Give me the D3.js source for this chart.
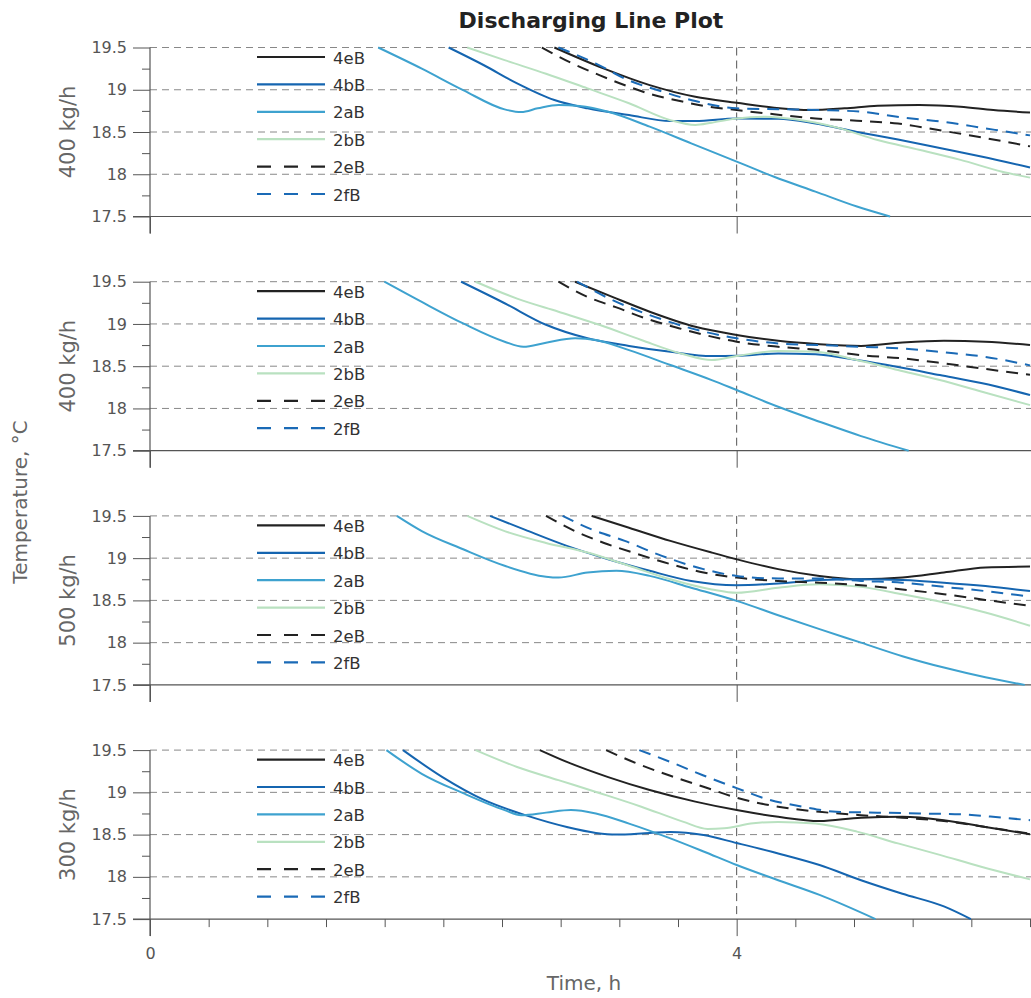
<!DOCTYPE html>
<html><head><meta charset="utf-8">
<script src="https://cdn.jsdelivr.net/npm/d3@7"></script>
<style>body{margin:0;background:#fff}svg{display:block}text{font-family:"DejaVu Sans",sans-serif}</style>
</head><body>
<svg id="chart" width="1031" height="998"></svg>
<script>
// ---- data ----
const seriesNames = ["4eB","4bB","2aB","2bB","2eB","2fB"];
const panelLabels = ["400 kg/h","400 kg/h","500 kg/h","300 kg/h"];
const yTicks = [17.5, 18, 18.5, 19, 19.5];
const xTickLabels = [0, 4];

// Panel 1 (400 kg/h)
const p1_4eB = [[2.757,19.5],[3.096,19.25],[3.407,19.055],[3.718,18.917],[4.0,18.846],[4.255,18.787],[4.509,18.76],[4.735,18.78],[4.961,18.81],[5.244,18.82],[5.526,18.80],[5.75,18.76],[6.0,18.73]];
const p1_4bB = [[2.036,19.5],[2.277,19.29],[2.503,19.075],[2.757,18.878],[2.983,18.78],[3.266,18.70],[3.548,18.63],[3.718,18.63],[4.0,18.66],[4.283,18.657],[4.537,18.60],[4.82,18.50],[5.10,18.41],[5.385,18.31],[5.667,18.21],[6.0,18.08]];
const p1_2aB = [[1.556,19.5],[1.853,19.25],[2.135,18.996],[2.418,18.768],[2.531,18.736],[2.644,18.78],[2.785,18.82],[2.927,18.807],[3.124,18.74],[3.407,18.563],[3.69,18.366],[4.0,18.15],[4.255,17.97],[4.537,17.795],[4.82,17.618],[5.046,17.5]];
const p1_2bB = [[2.163,19.5],[2.418,19.35],[2.70,19.19],[2.983,19.016],[3.266,18.84],[3.548,18.64],[3.718,18.583],[3.83,18.61],[4.0,18.66],[4.198,18.68],[4.396,18.65],[4.679,18.555],[4.961,18.405],[5.244,18.29],[5.526,18.17],[5.81,18.03],[6.0,17.96]];
const p1_2eB = [[2.672,19.5],[2.87,19.32],[3.068,19.17],[3.266,19.035],[3.435,18.937],[3.605,18.87],[3.774,18.81],[4.0,18.76],[4.255,18.71],[4.537,18.66],[4.82,18.634],[5.10,18.60],[5.385,18.52],[5.667,18.437],[6.0,18.33]];
const p1_2fB = [[2.785,19.5],[3.04,19.31],[3.266,19.11],[3.49,18.98],[3.718,18.866],[4.0,18.78],[4.283,18.77],[4.565,18.76],[4.848,18.74],[5.13,18.673],[5.413,18.62],[5.696,18.543],[6.0,18.46]];

// Panel 2 (400 kg/h)
const p2_4eB = [[2.898,19.5],[3.152,19.32],[3.407,19.145],[3.718,18.967],[4.0,18.87],[4.283,18.80],[4.565,18.76],[4.848,18.74],[5.13,18.78],[5.413,18.80],[5.696,18.79],[6.0,18.75]];
const p2_4bB = [[2.121,19.5],[2.418,19.245],[2.70,18.99],[2.983,18.83],[3.266,18.74],[3.548,18.67],[3.83,18.62],[4.0,18.624],[4.283,18.65],[4.537,18.64],[4.82,18.573],[5.10,18.49],[5.385,18.395],[5.667,18.30],[6.0,18.16]];
const p2_2aB = [[1.598,19.5],[1.853,19.26],[2.135,19.006],[2.418,18.79],[2.545,18.73],[2.70,18.778],[2.898,18.83],[3.04,18.81],[3.266,18.69],[3.548,18.514],[3.83,18.336],[4.0,18.218],[4.283,18.02],[4.565,17.843],[4.848,17.673],[5.173,17.5]];
const p2_2bB = [[2.22,19.5],[2.503,19.30],[2.785,19.145],[3.068,18.987],[3.35,18.81],[3.633,18.644],[3.83,18.573],[4.0,18.62],[4.283,18.68],[4.537,18.67],[4.82,18.573],[5.10,18.455],[5.385,18.336],[5.667,18.20],[6.0,18.04]];
const p2_2eB = [[2.785,19.5],[2.983,19.32],[3.18,19.196],[3.379,19.066],[3.605,18.95],[3.83,18.85],[4.0,18.79],[4.283,18.73],[4.565,18.69],[4.848,18.63],[5.13,18.593],[5.413,18.534],[5.696,18.467],[6.0,18.40]];
const p2_2fB = [[2.912,19.5],[3.152,19.283],[3.407,19.105],[3.69,18.948],[4.0,18.83],[4.283,18.77],[4.565,18.75],[4.848,18.73],[5.13,18.71],[5.413,18.664],[5.696,18.61],[6.0,18.51]];

// Panel 3 (500 kg/h)
const p3_4eB = [[3.011,19.5],[3.266,19.36],[3.548,19.204],[3.83,19.066],[4.0,18.987],[4.283,18.87],[4.565,18.79],[4.848,18.75],[5.13,18.77],[5.413,18.83],[5.696,18.89],[6.0,18.90]];
const p3_4bB = [[2.319,19.5],[2.559,19.334],[2.842,19.145],[3.124,18.987],[3.407,18.85],[3.69,18.73],[4.0,18.68],[4.283,18.70],[4.565,18.74],[4.848,18.75],[5.13,18.74],[5.413,18.71],[5.696,18.67],[6.0,18.61]];
const p3_2aB = [[1.683,19.5],[1.853,19.32],[2.135,19.105],[2.418,18.91],[2.70,18.78],[2.785,18.77],[2.983,18.83],[3.18,18.85],[3.407,18.79],[3.69,18.65],[4.0,18.494],[4.283,18.325],[4.565,18.16],[4.848,18.0],[5.13,17.84],[5.413,17.705],[5.696,17.59],[5.964,17.5]];
const p3_2bB = [[2.163,19.5],[2.418,19.32],[2.70,19.18],[2.983,19.066],[3.266,18.91],[3.548,18.75],[3.83,18.63],[4.0,18.59],[4.283,18.65],[4.565,18.69],[4.848,18.66],[5.13,18.573],[5.413,18.475],[5.696,18.356],[6.0,18.20]];
const p3_2eB = [[2.70,19.5],[2.898,19.32],[3.096,19.18],[3.322,19.05],[3.548,18.93],[3.774,18.83],[4.0,18.77],[4.283,18.73],[4.565,18.71],[4.848,18.68],[5.13,18.63],[5.413,18.573],[5.696,18.506],[6.0,18.435]];
const p3_2fB = [[2.813,19.5],[3.011,19.34],[3.237,19.204],[3.49,19.027],[3.774,18.87],[4.0,18.79],[4.283,18.76],[4.565,18.76],[4.848,18.73],[5.13,18.71],[5.413,18.66],[5.696,18.61],[6.0,18.545]];

// Panel 4 (300 kg/h)
const p4_4eB = [[2.658,19.5],[2.842,19.36],[3.124,19.18],[3.407,19.027],[3.718,18.89],[4.0,18.79],[4.283,18.71],[4.565,18.66],[4.848,18.70],[5.13,18.71],[5.413,18.67],[5.696,18.59],[6.0,18.505]];
const p4_4bB = [[1.725,19.5],[1.994,19.18],[2.277,18.91],[2.559,18.73],[2.842,18.59],[3.04,18.52],[3.18,18.50],[3.407,18.52],[3.548,18.53],[3.774,18.494],[4.0,18.40],[4.283,18.277],[4.565,18.14],[4.848,17.96],[5.13,17.80],[5.413,17.65],[5.597,17.5]];
const p4_2aB = [[1.612,19.5],[1.853,19.22],[2.135,18.99],[2.418,18.79],[2.531,18.73],[2.70,18.76],[2.87,18.79],[3.04,18.75],[3.266,18.63],[3.548,18.455],[3.774,18.30],[4.0,18.14],[4.283,17.96],[4.565,17.786],[4.947,17.5]];
const p4_2bB = [[2.22,19.5],[2.503,19.30],[2.785,19.145],[3.068,18.99],[3.35,18.83],[3.633,18.654],[3.802,18.567],[3.915,18.575],[4.113,18.634],[4.283,18.65],[4.537,18.63],[4.82,18.535],[5.10,18.396],[5.385,18.26],[5.667,18.12],[6.0,17.97]];
const p4_2eB = [[3.11,19.5],[3.322,19.34],[3.548,19.196],[3.774,19.066],[4.0,18.937],[4.283,18.83],[4.565,18.77],[4.848,18.73],[5.13,18.70],[5.413,18.66],[5.696,18.59],[6.0,18.51]];
const p4_2fB = [[3.336,19.5],[3.548,19.36],[3.774,19.2],[4.0,19.05],[4.226,18.91],[4.452,18.83],[4.678,18.77],[4.96,18.76],[5.244,18.75],[5.526,18.74],[5.81,18.70],[6.0,18.67]];

const panelSeries = [
  [p1_4eB,p1_4bB,p1_2aB,p1_2bB,p1_2eB,p1_2fB],
  [p2_4eB,p2_4bB,p2_2aB,p2_2bB,p2_2eB,p2_2fB],
  [p3_4eB,p3_4bB,p3_2aB,p3_2bB,p3_2eB,p3_2fB],
  [p4_4eB,p4_4bB,p4_2aB,p4_2bB,p4_2eB,p4_2fB]
];

// ---- styles ----
const colors = {"4eB":"#222222","4bB":"#1565b0","2aB":"#3ea2cf","2bB":"#b9e1c0","2eB":"#222222","2fB":"#1a6ab6"};
const dashed = {"2eB":true,"2fB":true};

const svg = d3.select("#chart");
const W = 1031;
const left = 150, right = 1030;
const panelH = 169, firstTop = 47.5, step = 234.2;
const x = d3.scaleLinear().domain([0,6]).range([left,right]);
const axisColor = "#555", gridColor = "#888", textColor = "#555";
const FONT = "DejaVu Sans";

svg.append("text").attr("x",591).attr("y",28).attr("text-anchor","middle")
  .attr("font-size",22).attr("font-weight","bold").attr("fill","#222").text("Discharging Line Plot");

panelSeries.forEach((series,pi)=>{
  const top = firstTop + pi*step, bottom = top + panelH;
  const y = d3.scaleLinear().domain([17.5,19.5]).range([bottom,top]);
  const g = svg.append("g");

  // horizontal grid lines
  g.selectAll(".hg").data(yTicks.filter(t=>t>17.5)).join("line")
    .attr("x1",left).attr("x2",W).attr("y1",d=>y(d)).attr("y2",d=>y(d))
    .attr("stroke",gridColor).attr("stroke-width",1).attr("stroke-dasharray","7,5");
  // vertical grid at x=4
  g.append("line").attr("x1",x(4)).attr("x2",x(4)).attr("y1",top).attr("y2",bottom)
    .attr("stroke","#555").attr("stroke-width",1).attr("stroke-dasharray","8,5");

  // y axis
  const yAxis = d3.axisLeft(y).tickValues(yTicks).tickSize(17).tickPadding(6)
    .tickFormat(d=>d3.format("")(d));
  const ya = g.append("g").attr("transform",`translate(${left},0)`).call(yAxis);
  ya.select(".domain").remove();
  ya.selectAll("line").attr("stroke",axisColor);
  ya.selectAll("text").attr("font-size",16).attr("fill",textColor).attr("font-family",FONT);
  const yMinor = d3.axisLeft(y).tickValues([17.75,18.25,18.75,19.25]).tickSize(8).tickFormat("");
  const ym = g.append("g").attr("transform",`translate(${left},0)`).call(yMinor);
  ym.select(".domain").remove();
  ym.selectAll("line").attr("stroke",axisColor);

  // y axis line (extends down by tick length)
  g.append("line").attr("x1",left).attr("x2",left).attr("y1",top).attr("y2",bottom+17)
    .attr("stroke",axisColor).attr("stroke-width",1.2);
  // bottom axis line
  g.append("line").attr("x1",left-17).attr("x2",W).attr("y1",bottom).attr("y2",bottom)
    .attr("stroke",axisColor).attr("stroke-width",1.2);

  // x axis ticks
  const xa = d3.axisBottom(x).tickValues(xTickLabels).tickSize(17)
    .tickFormat(pi===3 ? d3.format("d") : "");
  const xg = g.append("g").attr("transform",`translate(0,${bottom})`).call(xa);
  xg.select(".domain").remove();
  xg.selectAll("line").attr("stroke",axisColor);
  xg.selectAll("text").attr("font-size",16).attr("fill",textColor).attr("dy","1.25em").attr("font-family",FONT);
  if(pi===3){
    const minorVals = d3.range(1,16).map(i=>i*0.4).filter(v=>Math.abs(v-4)>1e-6 && v<=6.01);
    const xm = g.append("g").attr("transform",`translate(0,${bottom})`)
      .call(d3.axisBottom(x).tickValues(minorVals).tickSize(8).tickFormat(""));
    xm.select(".domain").remove();
    xm.selectAll("line").attr("stroke",axisColor);
  }

  // panel y-label
  g.append("text").attr("transform",`translate(75,${(top+bottom)/2}) rotate(-90)`)
    .attr("text-anchor","middle").attr("font-size",21).attr("fill","#666").text(panelLabels[pi]);

  // clip
  const cid = "clip"+pi;
  svg.append("clipPath").attr("id",cid).append("rect")
    .attr("x",left).attr("y",top-2).attr("width",W-left).attr("height",panelH+4);

  const line = d3.line().x(d=>x(d[0])).y(d=>y(d[1])).curve(d3.curveMonotoneX);
  const lg = g.append("g").attr("clip-path",`url(#${cid})`);
  series.forEach((data,si)=>{
    const name = seriesNames[si];
    lg.append("path").datum(data).attr("d",line).attr("fill","none")
      .attr("stroke",colors[name]).attr("stroke-width",2)
      .attr("stroke-dasharray",dashed[name]?"12,8":null);
  });

  // legend
  const leg = g.append("g");
  seriesNames.forEach((name,i)=>{
    const ly = top + 9.5 + i*27.4;
    leg.append("line").attr("x1",257).attr("x2",325).attr("y1",ly).attr("y2",ly)
      .attr("stroke",colors[name]).attr("stroke-width",2.2)
      .attr("stroke-dasharray",dashed[name]?"14,13":null);
    leg.append("text").attr("x",333).attr("y",ly+6.5).attr("font-size",16.5)
      .attr("fill","#333").text(name);
  });
});

// shared labels
svg.append("text").attr("transform",`translate(27,502) rotate(-90)`).attr("text-anchor","middle")
  .attr("font-size",20).attr("fill","#666").text("Temperature, °C");
svg.append("text").attr("x",584).attr("y",990).attr("text-anchor","middle")
  .attr("font-size",20).attr("fill","#666").text("Time, h");
</script>
</body></html>
